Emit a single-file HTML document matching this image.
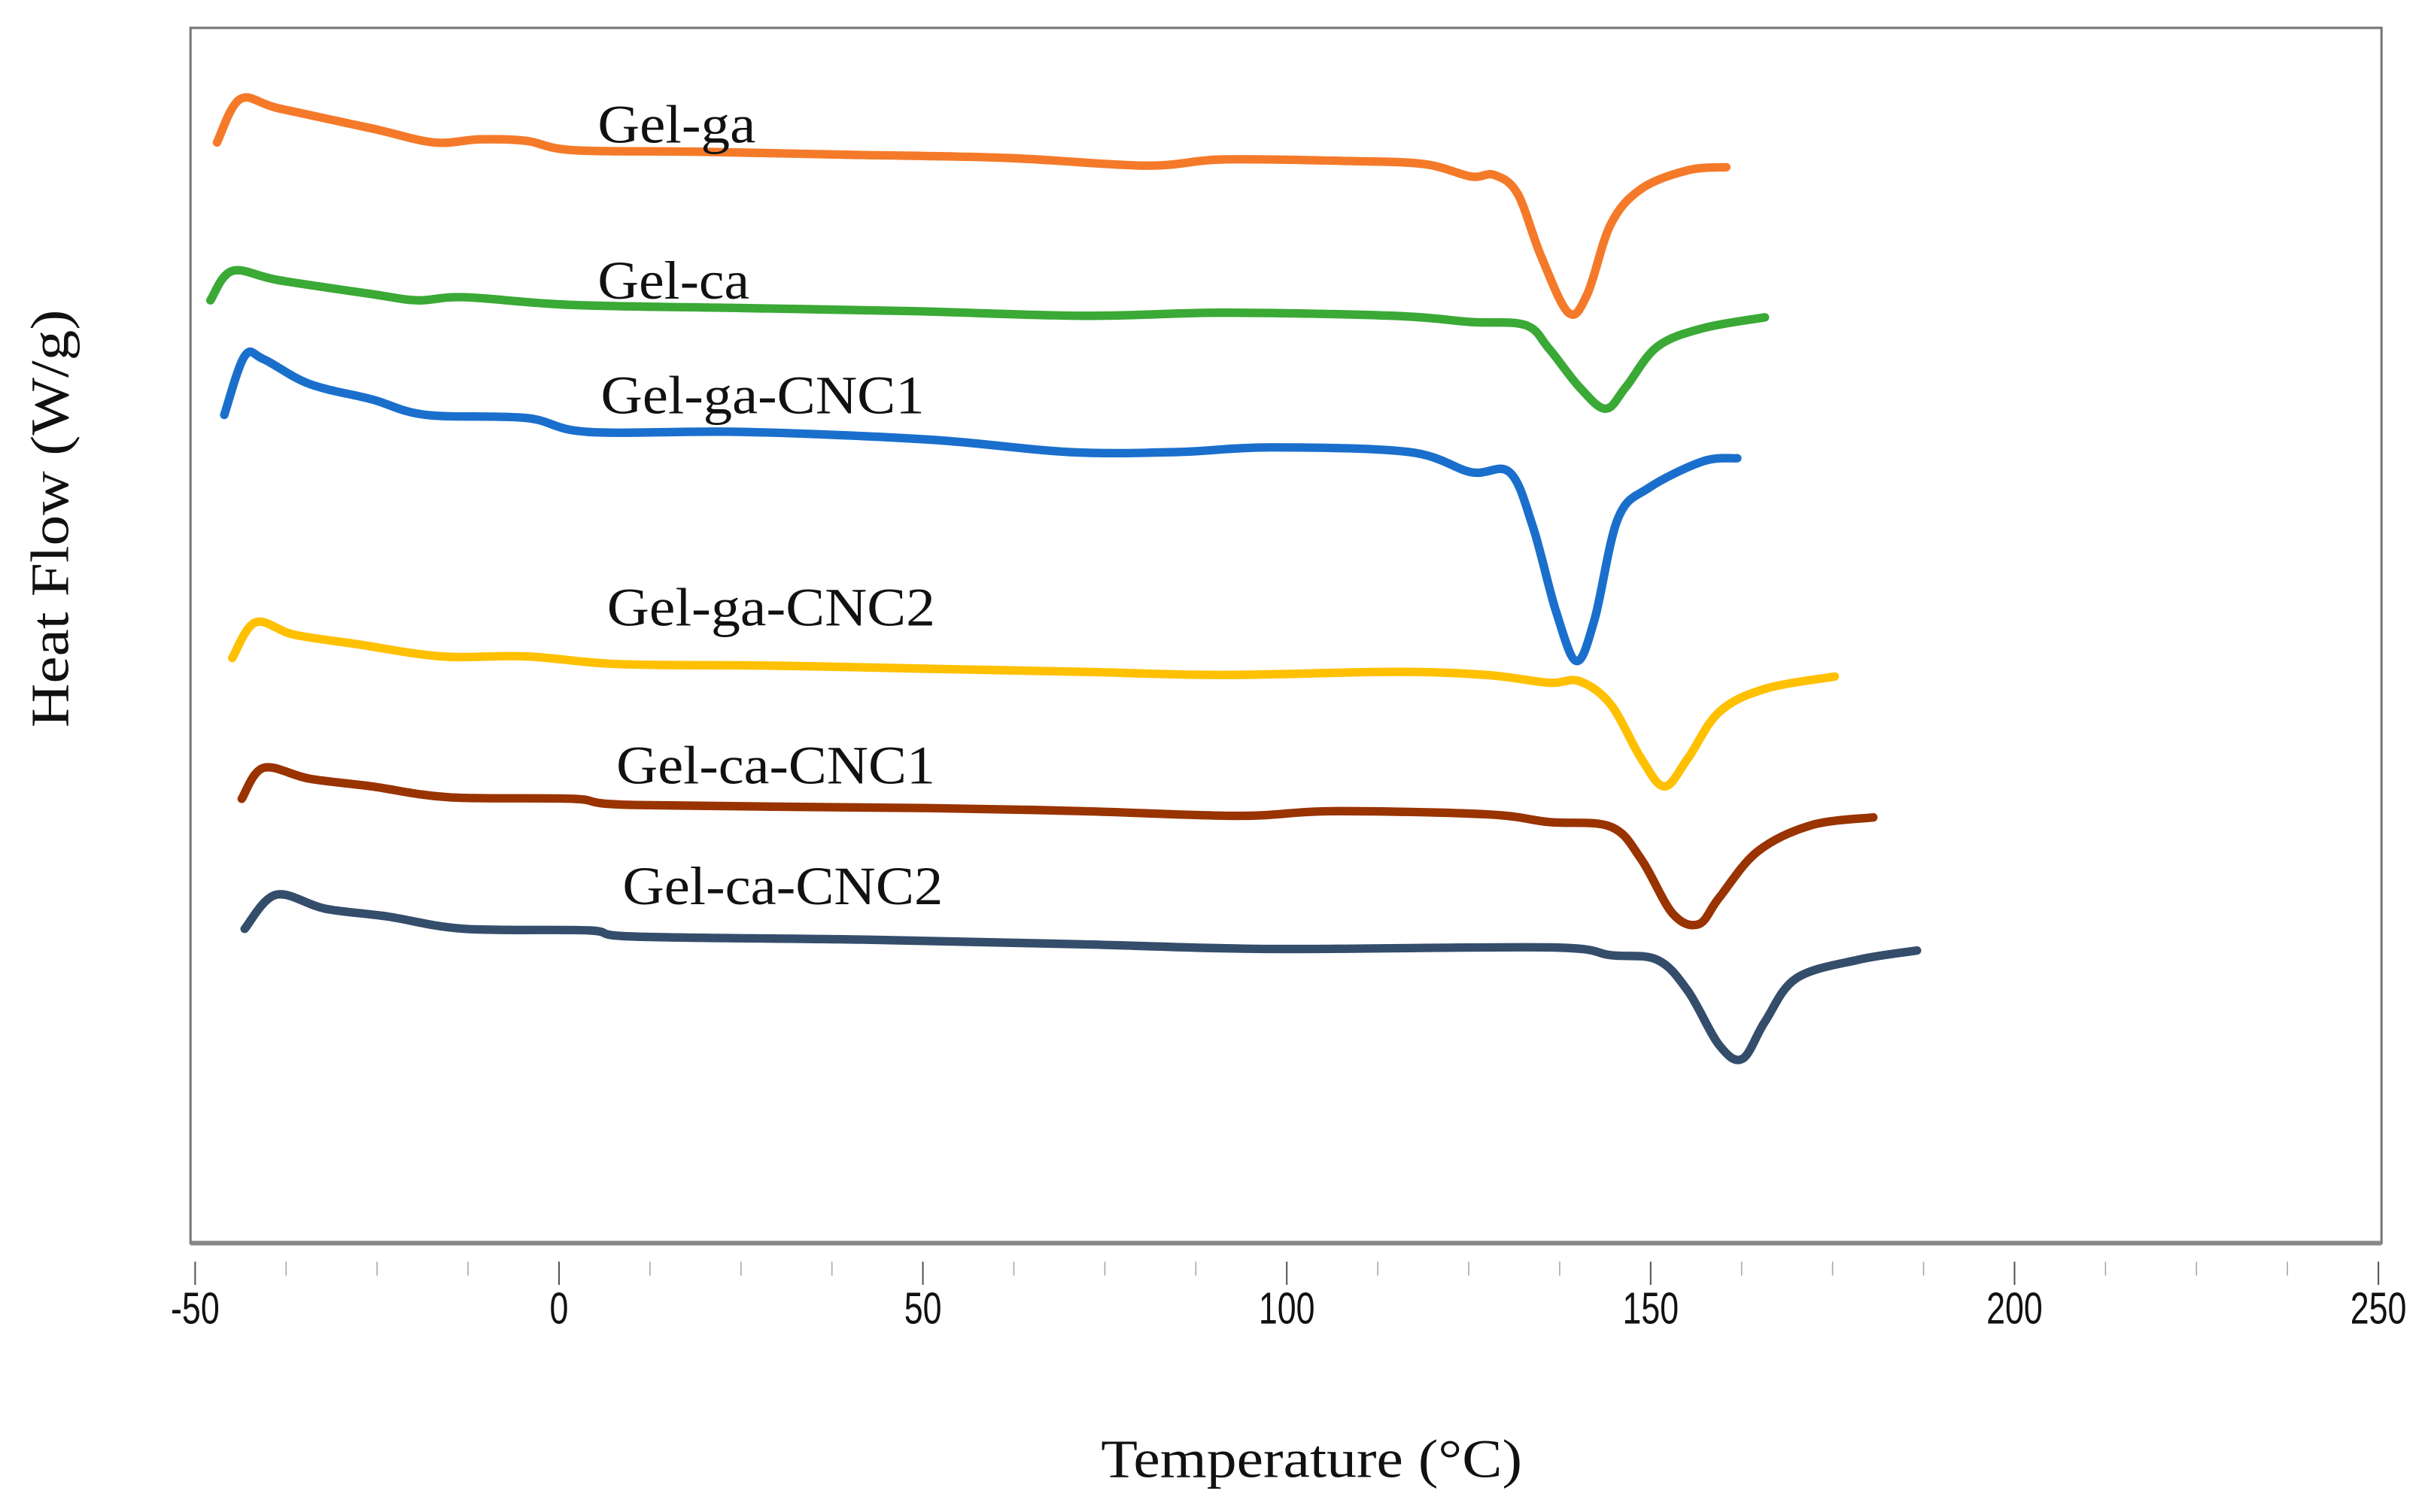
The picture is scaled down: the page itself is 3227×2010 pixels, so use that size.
<!DOCTYPE html>
<html><head><meta charset="utf-8"><style>
html,body{margin:0;padding:0;background:#fff;}
svg{display:block;}
</style></head><body>
<svg id="chart" width="3227" height="2010" viewBox="0 0 1568 976.7" xmlns="http://www.w3.org/2000/svg">
<rect x="0" y="0" width="1568" height="977" fill="#fff"/>
<rect x="123" y="18" width="1415" height="785" fill="none" stroke="#777" stroke-width="1.5"/>
<line x1="123" y1="803" x2="1538" y2="803" stroke="#888" stroke-width="3"/>
<g id="xticks"></g>
<g id="series"></g>
<g font-family="'Liberation Serif', serif" font-size="35" fill="#111">
<text x="386" y="92" textLength="102" lengthAdjust="spacingAndGlyphs">Gel-ga</text>
<text x="386" y="193" textLength="98" lengthAdjust="spacingAndGlyphs">Gel-ca</text>
<text x="388" y="267" textLength="209" lengthAdjust="spacingAndGlyphs">Gel-ga-CNC1</text>
<text x="392" y="404" textLength="212" lengthAdjust="spacingAndGlyphs">Gel-ga-CNC2</text>
<text x="398" y="506" textLength="206" lengthAdjust="spacingAndGlyphs">Gel-ca-CNC1</text>
<text x="402" y="584" textLength="207" lengthAdjust="spacingAndGlyphs">Gel-ca-CNC2</text>
</g>
<text x="711" y="954" textLength="272" lengthAdjust="spacingAndGlyphs" font-family="'Liberation Serif', serif" font-size="35" fill="#111">Temperature (°C)</text>
<text transform="translate(44,470) rotate(-90)" textLength="270" lengthAdjust="spacingAndGlyphs" font-family="'Liberation Serif', serif" font-size="35" fill="#111">Heat Flow (W/g)</text>
</svg>
<script>
const xTicks = [-50, 0, 50, 100, 150, 200, 250];
const seriesNames = ["Gel-ga","Gel-ca","Gel-ga-CNC1","Gel-ga-CNC2","Gel-ca-CNC1","Gel-ca-CNC2"];
const seriesColors = ["#f47a2a","#3aa935","#1a6fcc","#ffc000","#993300","#344d6b"];
const gelGaT = [-47,-43.8,-38.5,-25.7,-17.2,-10.9,-4.5,1.9,18.9,40.2,61.5,80.6,91.3,108.3,118.9,125.3,128.5,131.7,134.9,138.7,141.3,144.5,148.7,155.1,160.4];
const gelGaV = [71.1,73.9,73.3,72.0,71.1,71.3,71.2,70.6,70.5,70.3,70.1,69.6,70.0,69.9,69.7,68.9,69.0,67.8,63.8,60.1,61.3,65.8,68.1,69.3,69.5];
const gelCaT = [-47.9,-44.9,-38.5,-25.7,-19.4,-13,1.9,25.3,48.7,72.1,91.3,114.7,125.3,132.8,136,140.2,143.8,146.6,150.9,157.2,165.7];
const gelCaV = [60.9,62.8,62.2,61.3,60.9,61.1,60.6,60.4,60.2,59.9,60.1,59.9,59.5,59.3,57.8,55.3,53.9,55.3,57.9,59.1,59.8];
const gelGaCnc1T = [-46,-43.2,-40.6,-34.3,-25.7,-18.3,-4.5,4,25.3,50.9,70,84.9,97.7,116.8,125.3,130.6,133.8,137,139.8,142.3,145.5,149.8,157.2,161.9];
const gelGaCnc1V = [53.5,57.3,57.1,55.5,54.5,53.5,53.3,52.4,52.4,51.9,51.1,51.1,51.4,51.1,49.8,49.8,46.3,40.8,37.6,40.3,46.8,48.8,50.5,50.7];
const gelGaCnc2T = [-44.9,-41.7,-36.4,-27.9,-16.2,-4.5,8.3,29.6,50.9,72.1,91.3,114.7,127.4,136,140.2,144.5,148.7,151.9,155.1,159.4,165.7,175.3];
const gelGaCnc2V = [37.8,40.1,39.3,38.7,37.9,37.9,37.4,37.3,37.1,36.9,36.7,36.9,36.7,36.2,36.3,34.8,31.3,29.5,31.3,34.3,35.8,36.6];
const gelCaCnc1T = [-43.6,-40.6,-34.3,-25.7,-15.1,1.9,10.4,50.9,72.1,93.4,106.2,127.4,136,144.5,148.7,153,156.6,159.4,164.7,172.1,180.6];
const gelCaCnc1V = [28.7,30.7,30.0,29.5,28.8,28.7,28.3,28.1,27.9,27.6,27.9,27.7,27.2,26.9,24.8,21.3,20.6,22.3,25.3,27.0,27.5];
const gelCaCnc2T = [-43.2,-38.9,-32.1,-23.6,-13,4,10.4,42.3,72.1,97.7,136,144.5,150.9,155.1,159.4,162.6,165.7,170,178.5,186.6];
const gelCaCnc2V = [20.3,22.5,21.6,21.1,20.3,20.2,19.8,19.6,19.3,19.0,19.1,18.6,18.3,16.3,12.8,11.9,14.3,17.1,18.3,18.9];

const seriesT = [gelGaT, gelCaT, gelGaCnc1T, gelGaCnc2T, gelCaCnc1T, gelCaCnc2T];
const seriesV = [gelGaV, gelCaV, gelGaCnc1V, gelGaCnc2V, gelCaCnc1V, gelCaCnc2V];

const NS = "http://www.w3.org/2000/svg";
const X0 = 126, X1 = 1536, TMIN = -50, TMAX = 250;
const YB = 803, YT = 18, VMIN = 0, VMAX = 78.5;
function xs(t){ return X0 + (t - TMIN) / (TMAX - TMIN) * (X1 - X0); }
function ys(v){ return YB - (v - VMIN) / (VMAX - VMIN) * (YB - YT); }

const tg = document.getElementById('xticks');
for (let t = TMIN; t <= TMAX + 0.01; t += 12.5) {
  const major = Math.abs(t % 50) < 0.01;
  const l = document.createElementNS(NS, 'line');
  
  
  l.setAttribute('x1', xs(t)); l.setAttribute('x2', xs(t));
  l.setAttribute('y1', 815); l.setAttribute('y2', major ? 830 : 824);
  l.setAttribute('stroke', major ? '#555' : '#aaa');
  l.setAttribute('stroke-width', major ? 1 : 0.8);
  tg.appendChild(l);
}
xTicks.forEach(t => {
  const tx = document.createElementNS(NS, 'text');
  
  
  tx.setAttribute('x', xs(t)); tx.setAttribute('y', 855);
  tx.setAttribute('text-anchor', 'middle');
  tx.setAttribute('font-family', "'Liberation Sans', sans-serif");
  tx.setAttribute('font-size', '29');
  tx.setAttribute('fill', '#111');
  tx.setAttribute('transform', `translate(${xs(t)},0) scale(0.75,1) translate(${-xs(t)},0)`);
  tx.textContent = String(t);
  tg.appendChild(tx);
});

const sg = document.getElementById('series');
seriesT.forEach((T, i) => {
  const V = seriesV[i];
  const pts = T.map((t, k) => [xs(t), ys(V[k])]);
  let d = `M${pts[0][0]},${pts[0][1]}`;
  for (let k = 0; k < pts.length - 1; k++) {
    const p0 = pts[Math.max(0, k - 1)], p1 = pts[k], p2 = pts[k + 1], p3 = pts[Math.min(pts.length - 1, k + 2)];
    const c1x = p1[0] + (p2[0] - p0[0]) / 6, c1y = p1[1] + (p2[1] - p0[1]) / 6;
    const c2x = p2[0] - (p3[0] - p1[0]) / 6, c2y = p2[1] - (p3[1] - p1[1]) / 6;
    d += ` C${c1x},${c1y} ${c2x},${c2y} ${p2[0]},${p2[1]}`;
  }
  const p = document.createElementNS(NS, 'path');
  
  
  p.setAttribute('d', d);
  p.setAttribute('fill', 'none');
  p.setAttribute('stroke', seriesColors[i]);
  p.setAttribute('stroke-width', '5.5');
  p.setAttribute('stroke-linejoin', 'round');
  p.setAttribute('stroke-linecap', 'round');
  sg.appendChild(p);
});
</script>
</body></html>
